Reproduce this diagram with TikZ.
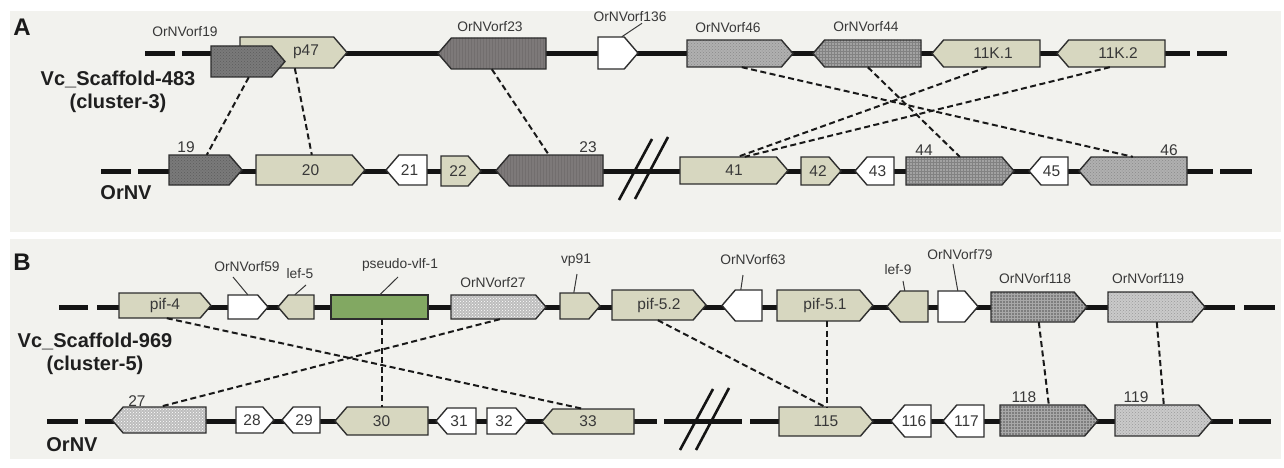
\documentclass[tikz,border=0pt]{standalone}
\usepackage{fontspec}
\setmainfont{Liberation Sans}
\usetikzlibrary{patterns}
\definecolor{panel}{HTML}{F2F2EE}
\definecolor{beige}{HTML}{D7D7C0}
\definecolor{outl}{HTML}{2E2E2E}
\definecolor{txt}{HTML}{383838}
\definecolor{dk}{HTML}{7A7A7A}
\definecolor{dkp}{HTML}{5C5C5C}
\definecolor{st}{HTML}{7D7979}
\definecolor{stp}{HTML}{726E6E}
\definecolor{lt}{HTML}{B0B0B0}
\definecolor{ltp}{HTML}{8A8A8A}
\definecolor{md}{HTML}{A2A2A2}
\definecolor{mdp}{HTML}{828282}
\definecolor{wd}{HTML}{BDBDBD}
\definecolor{gr}{HTML}{7E7E7E}
\definecolor{grp}{HTML}{A8A8A8}
\definecolor{lt2}{HTML}{CACACA}
\definecolor{lt2p}{HTML}{9A9A9A}
\definecolor{grn}{HTML}{82A862}
\newcommand\geneR[7]{%
 \pgfmathsetmacro\gtp{0.43*(#5-#4)}%
 \pgfmathsetmacro\gym{(#4+#5)/2}%
 \pgfmathsetmacro\gxa{#3-\gtp}%
 \draw[#6] (#2,#4) -- (\gxa,#4) -- (#3,\gym) -- (\gxa,#5) -- (#2,#5) -- cycle;
 \node[gtxt, minimum width={(#3-#2)*1pt}, minimum height={(#5-#4)*1pt}] (#1) at ({(#2+#3)/2},\gym) {#7};}
\newcommand\geneL[7]{%
 \pgfmathsetmacro\gtp{0.43*(#5-#4)}%
 \pgfmathsetmacro\gym{(#4+#5)/2}%
 \pgfmathsetmacro\gxa{#2+\gtp}%
 \draw[#6] (#3,#4) -- (\gxa,#4) -- (#2,\gym) -- (\gxa,#5) -- (#3,#5) -- cycle;
 \node[gtxt, minimum width={(#3-#2)*1pt}, minimum height={(#5-#4)*1pt}] (#1) at ({(#2+#3)/2},\gym) {#7};}
\newcommand\geneB[7]{%
 \pgfmathsetmacro\gym{(#4+#5)/2}%
 \draw[#6] (#2,#4) rectangle (#3,#5);
 \node[gtxt, minimum width={(#3-#2)*1pt}, minimum height={(#5-#4)*1pt}] (#1) at ({(#2+#3)/2},\gym) {#7};}
\begin{document}
\begin{tikzpicture}[x=1pt,y=-1pt,
  gtxt/.style={inner sep=0pt, font=\fontsize{15.5}{17}\selectfont, text=txt},
  lbl/.style={inner sep=1pt, font=\fontsize{13.8}{16}\selectfont, text=txt},
  bl/.style={inner sep=0pt, font=\bfseries\fontsize{20}{23}\selectfont, text=black!88, align=center},
  pl/.style={inner sep=0pt, font=\bfseries\fontsize{24}{26}\selectfont, text=black!90},
  bb/.style={line width=5pt, black!92},
  brk/.style={line width=2.6pt, black!92},
  gene/.style={draw=outl, line width=1.4pt, line join=miter},
  beigeg/.style={gene, fill=beige},
  whiteg/.style={gene, fill=white},
  greeng/.style={gene, fill=grn},
  darkdot/.style={gene, preaction={fill=dk}, pattern=crosshatch dots, pattern color=dkp},
  stripe/.style={gene, preaction={fill=st}, pattern=vertical lines, pattern color=stp},
  lightdot/.style={gene, preaction={fill=lt}, pattern=crosshatch dots, pattern color=ltp},
  middot/.style={gene, preaction={fill=md}, pattern=grid, pattern color=mdp},
  whitedot/.style={gene, preaction={fill=wd}, pattern=crosshatch dots, pattern color=white},
  gridg/.style={gene, preaction={fill=gr}, pattern=grid, pattern color=grp},
  light2/.style={gene, preaction={fill=lt2}, pattern=crosshatch dots, pattern color=lt2p},
  link/.style={line width=2pt, black!90, dash pattern=on 6pt off 3.5pt},
  leader/.style={line width=1pt, txt}]
\useasboundingbox (0,0) rectangle (1284,468);
\fill[panel] (10,11) rectangle (1281,232);
\fill[panel] (10,239) rectangle (1281,459);

% ---------------- Panel A ----------------
\node[pl] (pA) at (22,27) {A};
\draw[bb] (145,54) -- (175,54);
\draw[bb] (182,54) -- (1190,54);
\draw[bb] (1197,54) -- (1227,54);
\draw[bb] (101,171) -- (131,171);
\draw[bb] (138,171) -- (1213,171);
\draw[bb] (1220,171) -- (1252,171);
\draw[brk] (619,200) -- (652,139);
\draw[brk] (635,199) -- (668,137);

\node[bl] (sA) at (118,92) {Vc\_Scaffold-483\\(cluster-3)};
\node[bl] (oA) at (126,193) {OrNV};

\geneR{ap47}{240}{347}{37}{68}{beigeg}{}
\node[gtxt] (tp47) at (306,52) {p47};
\geneR{a19}{211}{285}{46}{77}{darkdot}{}
\geneL{a23}{438}{546}{38}{69}{stripe}{}
\geneR{a136}{598}{638}{37}{69}{whiteg}{}
\geneR{a46}{687}{793}{40}{67}{lightdot}{}
\geneL{a44}{813}{921}{40}{67}{middot}{}
\geneL{a11a}{932}{1040}{40}{67}{beigeg}{\hspace*{14pt}11K.1}
\geneL{a11b}{1057}{1165}{40}{67}{beigeg}{\hspace*{14pt}11K.2}

\node[lbl] (l19) at (185,32) {OrNVorf19};
\node[lbl] (l23) at (490,27) {OrNVorf23};
\node[lbl] (l136) at (630,17) {OrNVorf136};
\node[lbl] (l46) at (728,28) {OrNVorf46};
\node[lbl] (l44) at (866,27) {OrNVorf44};
\draw[leader] ([xshift=24pt]a136.north west) -- ([xshift=12pt]l136.south);

\geneR{n19}{169}{242}{155}{185}{darkdot}{}
\geneR{n20}{256}{365}{155}{185}{beigeg}{20}
\geneL{n21}{386}{427}{155}{185}{whiteg}{\hspace*{6pt}21}
\geneR{n22}{441}{481}{156}{186}{beigeg}{22\hspace*{6pt}}
\geneL{n23}{496}{603}{155}{186}{stripe}{}
\geneR{n41}{680}{788}{157}{184}{beigeg}{41}
\geneR{n42}{801}{841}{157}{185}{beigeg}{42\hspace*{6pt}}
\geneL{n43}{855}{894}{157}{185}{whiteg}{\hspace*{6pt}43}
\geneR{n44}{906}{1014}{157}{185}{middot}{}
\geneL{n45}{1029}{1068}{157}{185}{whiteg}{\hspace*{6pt}45}
\geneL{n46}{1079}{1187}{157}{185}{lightdot}{}

\node[gtxt] (t19) at (186,147) {19};
\node[gtxt] (t23) at (588,147) {23};
\node[gtxt] (t44) at (924,150) {44};
\node[gtxt] (t46) at (1169,150) {46};

\draw[link] ([xshift=38pt]a19.south west) -- ([xshift=38pt]n19.north west);
\draw[link] ([xshift=55pt]ap47.south west) -- ([xshift=56pt]n20.north west);
\draw[link] ([xshift=54pt]a23.south west) -- ([xshift=53pt]n23.north west);
\draw[link] ([xshift=55pt]a46.south west) -- ([xshift=54pt]n46.north west);
\draw[link] ([xshift=55pt]a44.south west) -- ([xshift=54pt]n44.north west);
\draw[link] ([xshift=55pt]a11a.south west) -- ([xshift=58pt]n41.north west);
\draw[link] ([xshift=53pt]a11b.south west) -- ([xshift=65pt]n41.north west);

% ---------------- Panel B ----------------
\node[pl] (pB) at (22,262) {B};
\draw[bb] (59,307) -- (88,307);
\draw[bb] (97,307) -- (1235,307);
\draw[bb] (1244,307) -- (1275,307);
\draw[bb] (47,421) -- (78,421);
\draw[bb] (85,421) -- (657,421);
\draw[bb] (664,421) -- (742,421);
\draw[bb] (750,421) -- (1233,421);
\draw[bb] (1239,421) -- (1271,421);
\draw[brk] (680,450) -- (713,389);
\draw[brk] (696,450) -- (729,388);

\node[bl] (sB) at (95,354) {Vc\_Scaffold-969\\(cluster-5)};
\node[bl] (oB) at (72,445) {OrNV};

\geneR{bpif4}{119}{211}{293}{318}{beigeg}{pif-4}
\geneR{b59}{228}{268}{295}{319}{whiteg}{}
\geneL{blef5}{278}{314}{295}{319}{beigeg}{}
\geneB{bvlf}{331}{428}{295}{319}{greeng}{}
\geneR{b27}{451}{546}{295}{319}{whitedot}{}
\geneR{bvp91}{560}{600}{293}{319}{beigeg}{}
\geneR{bpif52}{612}{706}{290}{320}{beigeg}{pif-5.2}
\geneL{b63}{722}{762}{290}{321}{whiteg}{}
\geneR{bpif51}{777}{873}{290}{321}{beigeg}{pif-5.1}
\geneL{blef9}{887}{928}{291}{322}{beigeg}{}
\geneR{b79}{938}{978}{291}{322}{whiteg}{}
\geneR{b118}{991}{1087}{292}{322}{gridg}{}
\geneR{b119}{1108}{1205}{292}{322}{light2}{}

\node[lbl] (l59) at (247,267) {OrNVorf59};
\node[lbl] (llef5) at (300,274) {lef-5};
\node[lbl] (lvlf) at (400,265) {pseudo-vlf-1};
\node[lbl] (l27) at (493,283) {OrNVorf27};
\node[lbl] (lvp91) at (576,260) {vp91};
\node[lbl] (l63) at (753,260) {OrNVorf63};
\node[lbl] (llef9) at (898,270) {lef-9};
\node[lbl] (l79) at (960,255) {OrNVorf79};
\node[lbl] (l118) at (1035,279) {OrNVorf118};
\node[lbl] (l119) at (1148,279) {OrNVorf119};
\draw[leader] ([xshift=20pt]b59.north west) -- (233,277);
\draw[leader] ([xshift=17pt]blef5.north west) -- (306,285);
\draw[leader] ([xshift=49pt]bvlf.north west) -- (398,277);
\draw[leader] ([xshift=14pt]bvp91.north west) -- (577,274);
\draw[leader] ([xshift=19pt]b63.north west) -- (743,275);
\draw[leader] ([xshift=18pt]blef9.north west) -- (903,281);
\draw[leader] ([xshift=20pt]b79.north west) -- (953,264);

\geneL{m27}{112}{206}{407}{433}{whitedot}{}
\geneR{m28}{236}{274}{407}{433}{whiteg}{28\hspace*{6pt}}
\geneL{m29}{282}{320}{407}{433}{whiteg}{\hspace*{6pt}29}
\geneL{m30}{335}{428}{407}{435}{beigeg}{30}
\geneL{m31}{436}{476}{408}{434}{whiteg}{\hspace*{6pt}31}
\geneR{m32}{487}{527}{408}{434}{whiteg}{32\hspace*{6pt}}
\geneL{m33}{542}{634}{409}{434}{beigeg}{33}
\geneR{m115}{779}{873}{407}{436}{beigeg}{115}
\geneL{m116}{891}{931}{405}{437}{whiteg}{\hspace*{6pt}116}
\geneL{m117}{943}{984}{405}{437}{whiteg}{\hspace*{6pt}117}
\geneR{m118}{1000}{1098}{405}{436}{gridg}{}
\geneR{m119}{1115}{1212}{405}{436}{light2}{}

\node[gtxt] (t27) at (137,401) {27};
\node[gtxt] (t118) at (1024,397) {118};
\node[gtxt] (t119) at (1136,397) {119};

\draw[link] ([xshift=48pt]bpif4.south west) -- ([xshift=41pt]m33.north west);
\draw[link] ([xshift=49pt]b27.south west) -- ([xshift=48pt]m27.north west);
\draw[link] ([xshift=51pt]bvlf.south west) -- ([xshift=47pt]m30.north west);
\draw[link] ([xshift=46pt]bpif52.south west) -- ([xshift=46pt]m115.north west);
\draw[link] ([xshift=50pt]bpif51.south west) -- ([xshift=48pt]m115.north west);
\draw[link] ([xshift=48pt]b118.south west) -- ([xshift=49pt]m118.north west);
\draw[link] ([xshift=49pt]b119.south west) -- ([xshift=49pt]m119.north west);
\end{tikzpicture}
\end{document}
